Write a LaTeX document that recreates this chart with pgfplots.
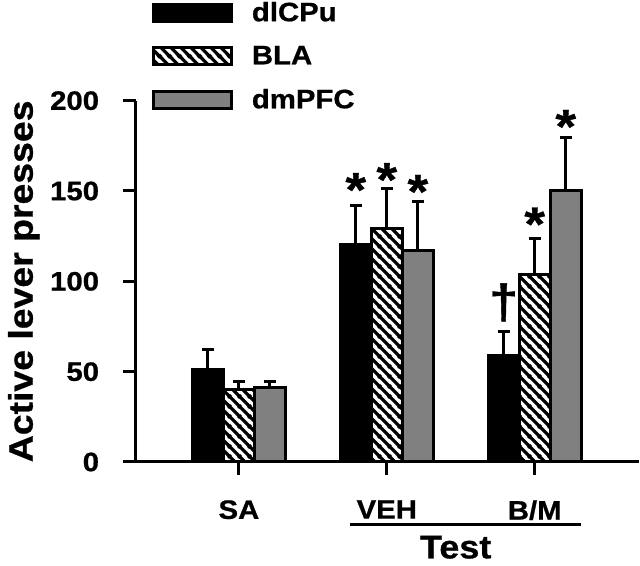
\documentclass[border=0pt]{standalone}
\usepackage{pgfplots}
\pgfplotsset{compat=1.18}
\usepackage{fontspec}
\setmainfont{Liberation Sans}[FakeStretch=1.1, BoldFeatures={FakeBold=0.8}]
\usetikzlibrary{patterns}

\definecolor{midgray}{RGB}{128,128,128}

% thick "\\\\" stripes for the BLA bars
\pgfdeclarepatternformonly{thickstripes}{\pgfqpoint{0pt}{0pt}}{\pgfqpoint{7.5pt}{7.5pt}}{\pgfqpoint{7.5pt}{7.5pt}}{%
  \pgfsetlinewidth{2.6pt}%
  \pgfpathmoveto{\pgfqpoint{-1pt}{8.5pt}}\pgfpathlineto{\pgfqpoint{8.5pt}{-1pt}}%
  \pgfpathmoveto{\pgfqpoint{-1pt}{1pt}}\pgfpathlineto{\pgfqpoint{1pt}{-1pt}}%
  \pgfpathmoveto{\pgfqpoint{6.5pt}{8.5pt}}\pgfpathlineto{\pgfqpoint{8.5pt}{6.5pt}}%
  \pgfusepath{stroke}}

\newcommand{\lblfont}{\fontsize{20}{22}\selectfont\bfseries}

\begin{document}
\begin{tikzpicture}
\begin{axis}[
    at={(0,0)}, anchor=south west,
    scale only axis, width=377pt, height=271pt,
    xmin=-0.696, xmax=2.703, ymin=0, ymax=200,
    axis x line*=bottom, axis y line*=left,
    axis line style={line width=2.25pt, black},
    xtick={0,1,2}, xticklabels={SA,VEH,B/M},
    ytick={0,50,100,150,200},
    tick align=outside, major tick length=9.5pt,
    tick style={line width=2.25pt, black},
    /pgf/number format/assume math mode=true,
    tick label style={font=\lblfont},
    yticklabel style={anchor=east, inner sep=0pt, xshift=-18pt},
    xticklabel style={anchor=north, inner sep=0pt, yshift=-19pt},
    ylabel={Active lever presses},
    every axis y label/.style={at={(axis description cs:-0.191,0.5)}, rotate=90, anchor=south, inner sep=0pt, font=\fontsize{25.5}{27}\selectfont\bfseries},
    xlabel={Test},
    every axis x label/.style={at={(axis description cs:0.636,-0.236)}, anchor=center, inner sep=0pt, font=\fontsize{24.5}{26}\selectfont\bfseries},
    ybar, bar width=0.21,
    clip=false,
    error bars/y dir=plus, error bars/y explicit,
    error bars/error bar style={line width=2.25pt, black},
    error bars/error mark options={rotate=90, mark size=4.5pt, line width=2.25pt, black},
    legend image code/.code={\draw[#1, line width=2.25pt] (1.125pt,-6.4pt) rectangle (59.6pt,6.4pt);},
    legend style={draw=none, fill=none, at={(axis description cs:0,1)}, anchor=north west,
        xshift=12pt, yshift=74.25pt, inner sep=0pt, row sep=17pt,
        nodes={inner sep=0pt}, font=\lblfont,
        /tikz/every odd column/.append style={column sep=14pt}},
    legend cell align=left,
]
\addplot[bar shift=-0.21, fill=black, draw=black, line width=2.25pt] coordinates {
    (0,51) +- (0,11)
    (1,120.5) +- (0,21.5)
    (2,59) +- (0,13)
};
\addplot[bar shift=0, fill=white, pattern=thickstripes, pattern color=black, draw=black, line width=2.25pt] coordinates {
    (0,40) +- (0,4.5)
    (1,129.5) +- (0,22)
    (2,104) +- (0,19.5)
};
\addplot[bar shift=0.21, fill=midgray, draw=black, line width=2.25pt] coordinates {
    (0,41) +- (0,3.5)
    (1,117) +- (0,27)
    (2,150) +- (0,29.5)
};
\legend{dlCPu, BLA, dmPFC}

% significance marks
\begin{scope}[every node/.style={anchor=north, inner sep=0pt, font=\fontsize{36}{36}\selectfont\bfseries}]
\node at (axis cs:0.79,160) {*};
\node at (axis cs:1,165.6) {*};
\node at (axis cs:1.21,159) {*};
\node at (axis cs:2,141) {*};
\node at (axis cs:2.21,195) {*};
\node at (axis cs:1.79,99) {†};
\end{scope}

% bracket under the test conditions
\draw[line width=2.25pt] ([yshift=-47pt]axis cs:0.75,0) -- ([yshift=-47pt]axis cs:2.31,0);
\end{axis}
\pgfresetboundingbox
\path (-102pt,-78pt) rectangle (378pt,346.5pt);
\end{tikzpicture}
\end{document}
